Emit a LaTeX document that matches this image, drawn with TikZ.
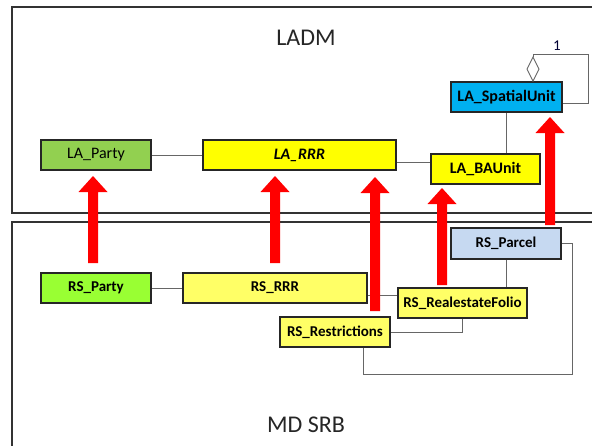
\documentclass[tikz,border=0pt]{standalone}
\usepackage{fontspec}
\setmainfont{Carlito}
\usetikzlibrary{calc}
\definecolor{lagreen}{HTML}{92D050}
\definecolor{rsgreen}{HTML}{99FF33}
\definecolor{layellow}{HTML}{FFFF00}
\definecolor{rsyellow}{HTML}{FFFF66}
\definecolor{lablue}{HTML}{00B0F0}
\definecolor{rsblue}{HTML}{C6D9F1}
\definecolor{arrowred}{HTML}{FF0000}
\newcommand{\redarrow}[3]{%
  \fill[arrowred] (#1-5,#2) -- (#1-5,#3+16) -- (#1-14.5,#3+16) -- (#1,#3) -- (#1+14.5,#3+16) -- (#1+5,#3+16) -- (#1+5,#2) -- cycle;}
\tikzset{
  box/.style={draw=black!85, line width=1.6pt, minimum height=30pt, inner sep=0pt, font=\fontsize{16}{18}\selectfont},
  rsbox/.style={box, font=\fontsize{15}{17}\selectfont\bfseries},
  conn/.style={draw=black!60, line width=0.9pt},
  frame/.style={draw=black!80, line width=1.6pt},
  title/.style={font=\fontsize{24}{27}\selectfont, text=black!85}
}
\begin{document}
\begin{tikzpicture}[x=1pt,y=-1pt]
\useasboundingbox (0,0) rectangle (592,445);
\fill[white] (0,0) rectangle (592,445);
% frames
\draw[frame] (600,7) -- (12,7) -- (12,213) -- (600,213);
\draw[frame] (600,222) -- (12,222) -- (12,450);
\node[title] (ladm) at (306,38) {LADM};
\node[title] (mdsrb) at (306,425) {MD SRB};
% LADM nodes
\node[box, fill=lagreen, minimum width=110pt] (LAParty) at (96,155) {LA\_Party};
\node[box, fill=layellow, minimum width=193pt, font=\fontsize{16}{18}\selectfont\bfseries\itshape] (LARRR) at (299.5,155) {LA\_RRR};
\node[box, fill=layellow, minimum width=109pt, font=\fontsize{16}{18}\selectfont\bfseries] (LABAUnit) at (485.5,169) {LA\_BAUnit};
\node[box, fill=lablue, minimum width=111pt, font=\fontsize{16}{18}\selectfont\bfseries] (LASU) at (506.5,97) {LA\_SpatialUnit};
% RS nodes
\node[rsbox, fill=rsgreen, minimum width=110pt] (RSParty) at (96,288) {RS\_Party};
\node[rsbox, fill=rsyellow, minimum width=184pt] (RSRRR) at (275,288) {RS\_RRR};
\node[rsbox, fill=rsyellow, minimum width=110pt] (RSRestr) at (335,332) {RS\_Restrictions};
\node[rsbox, fill=rsyellow, minimum width=129pt] (RSFolio) at (462.5,303) {RS\_RealestateFolio};
\node[rsbox, fill=rsblue, minimum width=110pt, minimum height=31pt] (RSParcel) at (506,243.5) {RS\_Parcel};
% LADM connectors
\draw[conn] (LAParty.east) -- (LARRR.west);
\draw[conn] ([yshift=-7pt]LARRR.east) -- ([yshift=-7pt]LARRR.east -| LABAUnit.west);
\draw[conn] (LASU.south) -- (LASU.south |- LABAUnit.north);
\coordinate (d0) at ([xshift=26.5pt]LASU.north);
\coordinate (sa) at (588,54);
\draw[conn, fill=white] (d0) -- ++(-6,-12) -- ++(6,-12) -- ++(6,12) -- cycle;
\draw[conn] ([yshift=24pt]d0) |- (sa) |- ([yshift=-6pt]LASU.east);
\node[font=\fontsize{15}{17}\selectfont, text=black!80!blue] (one) at (557,46) {1};
% RS connectors
\draw[conn] (RSParty.east) -- (RSRRR.west);
\draw[conn] ([yshift=-7pt]RSRRR.east) -- ([yshift=-7pt]RSRRR.east -| RSFolio.west);
\draw[conn] (RSParcel.south) -- (RSParcel.south |- RSFolio.north);
\draw[conn] (RSFolio.south) |- (RSRestr.east);
\coordinate (c1) at (572,374);
\draw[conn] ([xshift=28pt]RSRestr.south) |- (c1) |- (RSParcel.east);
% red arrows
\redarrow{93}{263}{176}
\redarrow{275}{263}{176}
\redarrow{375}{311}{177}
\redarrow{442}{285}{188}
\redarrow{550}{225}{117}
\end{tikzpicture}
\end{document}
